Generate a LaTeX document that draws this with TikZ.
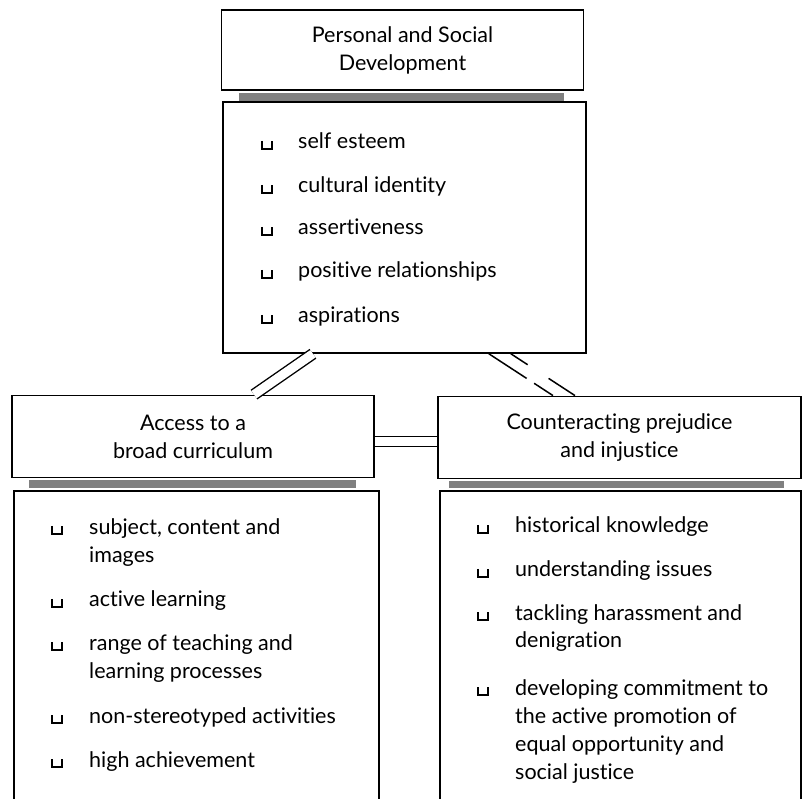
\documentclass[tikz,border=0pt]{standalone}
\usepackage{fontspec}
\setmainfont{Lato}[Ligatures=NoCommon]
\usetikzlibrary{positioning}

\tikzset{
  head box/.style={draw, line width=1.8pt, minimum width=362pt, minimum height=82pt,
    align=center, inner sep=0pt, font=\fontsize{21.5}{28}\selectfont},
  list box/.style={draw, line width=1.8pt, inner sep=0pt},
  strip/.style={fill=black!50, draw=none},
  item/.style={anchor=base west, align=left, inner sep=0pt,
    font=\fontsize{21.5}{28}\selectfont},
  bullet/.style={line width=1.8pt},
  link/.style={double, double distance=9pt, line width=1.4pt},
  thin link/.style={line width=1.5pt}
}

\begin{document}
\begin{tikzpicture}[x=1pt,y=1pt]
  \useasboundingbox (0,0) rectangle (804,-799);

  % headings
  \node[head box, minimum height=80pt] (phead) at (402.5,-50) {Personal and Social\\Development};
  \node[head box] (ahead) at (193,-436.5) {Access to a\\broad curriculum};
  \node[head box, minimum width=363pt] (chead) at (619.5,-437.5) {Counteracting prejudice\\and injustice};

  % shaded strips under the headings
  \fill[strip] ([xshift=18pt,yshift=-2pt]phead.south west) rectangle ([xshift=-20pt,yshift=-10pt]phead.south east);
  \fill[strip] ([xshift=18pt,yshift=-2pt]ahead.south west) rectangle ([xshift=-19pt,yshift=-10pt]ahead.south east);
  \fill[strip] ([xshift=12pt,yshift=-2pt]chead.south west) rectangle ([xshift=-18pt,yshift=-9pt]chead.south east);

  % list boxes (the lower two run off the page)
  \node[list box, anchor=north west, minimum width=363pt, minimum height=251pt] (pbody) at (222,-101) {};
  \node[list box, anchor=north west, minimum width=365pt, minimum height=340pt] (abody) at (13,-490) {};
  \node[list box, anchor=north west, minimum width=361pt, minimum height=340pt] (cbody) at (439,-490) {};

  % list items: baseline of the last line / extra lines / text
  \foreach \y/\n/\txt [count=\i] in {149/0/self esteem, 193/0/cultural identity, 235/0/assertiveness,
      278/0/positive relationships, 323/0/aspirations} {
    \node[item] (p\i) at (298,-\y) {\txt};
    \draw[bullet] ([xshift=-36pt,yshift=8pt+\n*28pt]p\i.base west) |- ([xshift=-26pt,yshift=\n*28pt]p\i.base west) -- ++(0,8pt);
  }
  \foreach \y/\n/\txt [count=\i] in {562/1/{subject, content and\\images}, 607/0/active learning,
      678/1/{range of teaching and\\learning processes}, 723/0/non-stereotyped activities,
      767/0/high achievement} {
    \node[item] (a\i) at (89,-\y) {\txt};
    \draw[bullet] ([xshift=-37pt,yshift=8pt+\n*28pt]a\i.base west) |- ([xshift=-27pt,yshift=\n*28pt]a\i.base west) -- ++(0,8pt);
  }
  \foreach \y/\n/\txt [count=\i] in {533/0/historical knowledge, 577/0/understanding issues,
      648/1/{tackling harassment and\\denigration},
      779/3/{developing commitment to\\the active promotion of\\equal opportunity and\\social justice}} {
    \node[item] (c\i) at (515,-\y) {\txt};
    \draw[bullet] ([xshift=-37pt,yshift=8pt+\n*28pt]c\i.base west) |- ([xshift=-27pt,yshift=\n*28pt]c\i.base west) -- ++(0,8pt);
  }

  % links between the three areas
  \draw[link] ([xshift=-91.5pt]pbody.south) -- ([xshift=61pt]ahead.north);
  \draw[link] ([yshift=-5pt]ahead.east) -- ([yshift=-5pt]ahead.east -| chead.west);
  \draw[thin link, dash pattern=on 45pt off 9pt on 40pt]
    ([xshift=84.5pt]pbody.south) -- ([xshift=-66.5pt]chead.north);
  \draw[thin link, dash pattern=on 20pt off 25pt on 40pt]
    ([xshift=106.5pt]pbody.south) -- ([xshift=-44.5pt]chead.north);
\end{tikzpicture}
\end{document}
